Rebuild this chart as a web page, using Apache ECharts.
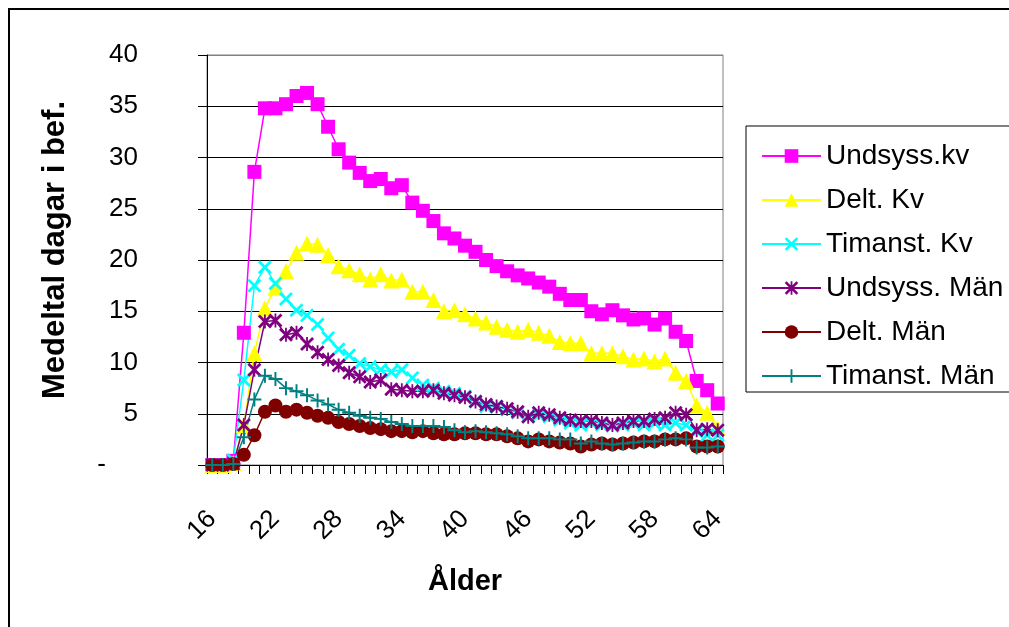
<!DOCTYPE html>
<html>
<head>
<meta charset="utf-8">
<script src="https://cdn.jsdelivr.net/npm/echarts@6/dist/echarts.min.js"></script>
<style>
html,body{margin:0;padding:0;background:#fff;}
#c{width:1009px;height:627px;}
</style>
</head>
<body>
<div id="c"></div>
<script>
var ages = [];
for (var a = 16; a <= 64; a++) ages.push(String(a));

var undsyssKv = [0,0,0.4,12.9,28.6,34.8,34.8,35.2,36.0,36.3,35.2,33.0,30.8,29.5,28.5,27.7,27.9,27.0,27.3,25.6,24.8,23.8,22.6,22.1,21.4,20.8,20.0,19.4,18.9,18.5,18.2,17.8,17.4,16.7,16.1,16.1,15.0,14.7,15.1,14.6,14.2,14.3,13.7,14.3,13.0,12.1,8.2,7.3,6.0];
var deltKv = [0,0,0.2,3.9,10.9,15.3,17.3,18.9,20.7,21.6,21.5,20.5,19.4,19.0,18.6,18.1,18.6,18.0,18.1,16.9,16.9,16.1,15.0,15.1,14.7,14.3,13.9,13.5,13.2,13.0,13.2,12.9,12.6,12.0,11.9,11.9,10.9,10.9,10.9,10.6,10.3,10.4,10.1,10.4,9.0,8.2,5.8,5.1,3.6];
var timanstKv = [0,0,0.5,8.3,17.5,19.3,17.7,16.2,15.1,14.6,13.7,12.4,11.3,10.7,9.9,9.6,9.3,9.1,9.3,8.5,7.8,7.5,7.2,7.0,6.7,6.2,5.7,5.7,5.4,5.1,4.7,4.9,4.7,4.4,4.1,3.9,4.1,3.9,3.8,3.9,4.1,3.9,4.1,3.9,4.1,3.9,3.3,2.9,2.9];
var undsyssMan = [0,0,0.1,3.9,9.3,14.0,14.1,12.7,12.9,11.8,11.0,10.3,9.7,9.0,8.6,8.1,8.3,7.4,7.3,7.2,7.2,7.3,7.0,6.8,6.6,6.2,5.9,5.7,5.5,5.2,4.7,5.1,4.9,4.6,4.4,4.3,4.3,4.1,3.9,4.1,4.3,4.3,4.5,4.6,5.1,4.9,3.4,3.5,3.4];
var deltMan = [0,0,0.1,1.0,2.9,5.2,5.8,5.2,5.4,5.1,4.8,4.6,4.2,4.0,3.8,3.6,3.5,3.3,3.3,3.2,3.3,3.1,3.0,3.0,3.1,3.1,3.0,3.0,2.8,2.6,2.3,2.5,2.3,2.2,2.1,1.8,2.0,2.1,2.0,2.1,2.2,2.3,2.3,2.5,2.5,2.6,1.8,1.8,1.8];
var timanstMan = [0,0,0.1,2.7,6.4,8.7,8.4,7.5,7.2,6.8,6.3,5.9,5.4,5.1,4.8,4.6,4.5,4.2,4.0,3.8,3.8,3.8,3.7,3.4,3.2,3.3,3.2,3.1,3.0,2.8,2.6,2.6,2.6,2.5,2.5,2.1,2.3,2.1,2.0,2.1,2.2,2.3,2.3,2.5,2.6,2.5,1.7,1.7,1.8];

var seriesNames = ['Undsyss.kv','Delt. Kv','Timanst. Kv','Undsyss. Män','Delt. Män','Timanst. Män'];
var yTicks = [0,5,10,15,20,25,30,35,40];

var FONT = '"Liberation Sans", Arial, sans-serif';
var X_PATH = 'path://M0,1.4 L1.4,0 L10,8.6 L8.6,10 Z M8.6,0 L10,1.4 L1.4,10 L0,8.6 Z';
var PLUS_PATH = 'path://M4.3,0 L5.7,0 L5.7,10 L4.3,10 Z M0,4.3 L10,4.3 L10,5.7 L0,5.7 Z';
var STAR_PATH = 'path://M0,1.4 L1.4,0 L10,8.6 L8.6,10 Z M8.6,0 L10,1.4 L1.4,10 L0,8.6 Z M4.35,0 L5.65,0 L5.65,10 L4.35,10 Z';

function mk(name, data, color, symbol, size) {
  return {
    name: name, type: 'line', data: data,
    symbol: symbol, symbolSize: size, showAllSymbol: true,
    itemStyle: {color: color, borderWidth: 0},
    lineStyle: {color: color, width: 1.5},
    emphasis: {disabled: true},
    animation: false
  };
}

var chart = echarts.init(document.getElementById('c'), null, {renderer: 'canvas'});
chart.setOption({
  backgroundColor: '#fff',
  animation: false,
  grid: {left: 207, right: 286, top: 55, bottom: 162, show: true, borderColor: '#808080', borderWidth: 1, backgroundColor: '#fff'},
  legend: {
    left: 756, top: 136, orient: 'vertical',
    itemWidth: 59, itemHeight: 17, itemGap: 14,
    textStyle: {fontFamily: FONT, fontSize: 28, color: '#000', lineHeight: 30},
    data: seriesNames
  },
  xAxis: {
    type: 'category', data: ages, boundaryGap: true,
    axisLine: {lineStyle: {color: '#000', width: 1}},
    axisTick: {show: true, interval: 0, length: 9, lineStyle: {color: '#000'}},
    axisLabel: {interval: 5, rotate: 45, margin: 50, fontFamily: FONT, fontSize: 26, color: '#000'},
    splitLine: {show: false}
  },
  yAxis: {
    type: 'value', min: yTicks[0], max: yTicks[yTicks.length-1], interval: 5,
    axisLine: {show: true, lineStyle: {color: '#000', width: 1}},
    axisTick: {show: true, length: 9, lineStyle: {color: '#000'}},
    axisLabel: {
      margin: 69, fontFamily: FONT, fontSize: 26, color: '#000',
      formatter: function (v) { return v === 0 ? '{z|-}' : String(v); },
      rich: {z: {fontFamily: FONT, fontSize: 26, color: '#000', padding: [0, 32, 0, 0]}}
    },
    splitLine: {show: true, lineStyle: {color: ['#000','#000','#000','#000','#000','#000','#000','#000','#808080'], width: 1}}
  },
  graphic: [
    {type: 'rect', shape: {x: 9, y: 9, width: 1200, height: 800}, style: {fill: null, stroke: '#000', lineWidth: 2}, silent: true, z: 100},
    {type: 'rect', shape: {x: 746, y: 126, width: 400, height: 266}, style: {fill: null, stroke: '#000', lineWidth: 1}, silent: true, z: 100},
    {type: 'text', x: 55, y: 250, rotation: Math.PI / 2, style: {text: 'Medeltal dagar i bef.', x: 0, y: 0, align: 'center', verticalAlign: 'middle', font: 'bold 31px ' + FONT, fill: '#000'}, silent: true},
    {type: 'text', x: 465, y: 582, style: {text: 'Ålder', x: 0, y: 0, align: 'center', verticalAlign: 'middle', font: 'bold 29px ' + FONT, fill: '#000'}, silent: true}
  ],
  series: [
    mk(seriesNames[0], undsyssKv, '#FF00FF', 'rect', 14),
    mk(seriesNames[1], deltKv, '#FFFF00', 'triangle', 16),
    mk(seriesNames[2], timanstKv, '#00FFFF', X_PATH, 14),
    mk(seriesNames[3], undsyssMan, '#800080', STAR_PATH, 14),
    mk(seriesNames[4], deltMan, '#800000', 'circle', 14),
    mk(seriesNames[5], timanstMan, '#008080', PLUS_PATH, 14)
  ]
});
</script>
</body>
</html>
